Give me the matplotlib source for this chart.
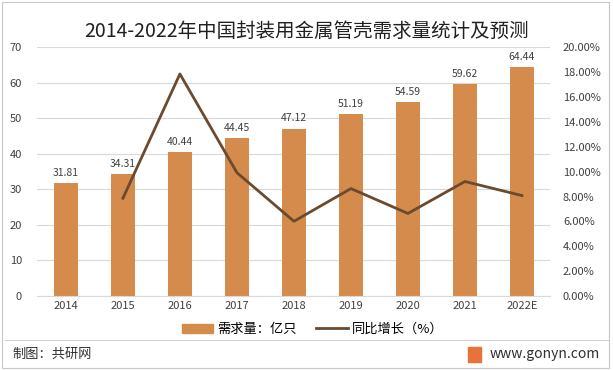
import matplotlib.pyplot as plt
from matplotlib.ticker import FuncFormatter, MultipleLocator
from matplotlib.patches import Rectangle
from matplotlib.lines import Line2D

plt.rcParams['font.family'] = ['Noto Sans CJK SC', 'DejaVu Sans']

years = ['2014', '2015', '2016', '2017', '2018', '2019', '2020', '2021', '2022E']
demand = [31.81, 34.31, 40.44, 44.45, 47.12, 51.19, 54.59, 59.62, 64.44]
growth_years = years[1:]
growth = [7.86, 17.86, 9.92, 6.01, 8.64, 6.64, 9.21, 8.08]

bar_color = '#D48B4B'
line_color = '#6B4A30'
text_color = '#404040'

fig = plt.figure(figsize=(6.13, 3.70), dpi=100)
ax = fig.add_axes([0.061, 0.2, 0.837, 0.672])
x = list(range(len(years)))
ax.bar(x, demand, width=0.42, color=bar_color, zorder=2)
for xi, v in zip(x, demand):
    ax.text(xi, v + 1.5, f'{v:.2f}', ha='center', va='bottom', fontsize=7.5, color=text_color)
ax.set_ylim(0, 70)
ax.set_xlim(-0.5, len(years) - 0.5)
ax.yaxis.set_major_locator(MultipleLocator(10))
ax.grid(axis='y', color='#d9d9d9', linewidth=0.8, zorder=0)
ax.set_xticks(x)
ax.set_xticklabels(years, fontsize=8, color='#303030')
ax.tick_params(axis='both', length=0, labelsize=8, colors=text_color)
ax.tick_params(axis='y', pad=11)
for s in ax.spines.values():
    s.set_visible(False)
ax.spines['bottom'].set_visible(True)
ax.spines['bottom'].set_color('#d9d9d9')

ax2 = ax.twinx()
ax2.plot(x[1:], growth, color=line_color, linewidth=2, zorder=3)
ax2.set_ylim(0, 20)
ax2.yaxis.set_major_locator(MultipleLocator(2))
ax2.yaxis.set_major_formatter(FuncFormatter(lambda v, p: f'{v:.2f}%'))
ax2.tick_params(axis='y', length=0, labelsize=8, colors=text_color, pad=9)
for s in ax2.spines.values():
    s.set_visible(False)

fig.text(0.5, 0.915, '2014-2022年中国封装用金属管壳需求量统计及预测', ha='center', va='center',
         fontsize=14, color='#202020')

handles = [Rectangle((0, 0), 1, 1, color=bar_color),
           Line2D([0], [0], color=line_color, linewidth=2)]
fig.legend(handles, ['需求量：亿只', '同比增长（%）'], loc='center', bbox_to_anchor=(0.51, 0.11),
           ncol=2, frameon=False, fontsize=9.5, handlelength=2.4, columnspacing=1.5, handletextpad=0.3)

fig.add_artist(Line2D([0.008, 0.992], [0.082, 0.082], color='#d0d0d0', linewidth=0.8))
fig.add_artist(Rectangle((0.004, 0.006), 0.99, 0.988, fill=False, edgecolor='#c8c8c8', linewidth=0.8))
fig.text(0.02, 0.042, '制图：共研网', fontsize=9.5, va='center', color='#303030')
fig.text(0.978, 0.042, 'www.gonyn.com', fontsize=10, va='center', ha='right', color='#303030')
fig.add_artist(Rectangle((0.763, 0.022), 0.022, 0.04, color='#E8733A'))

fig.savefig('out.png', dpi=100)
